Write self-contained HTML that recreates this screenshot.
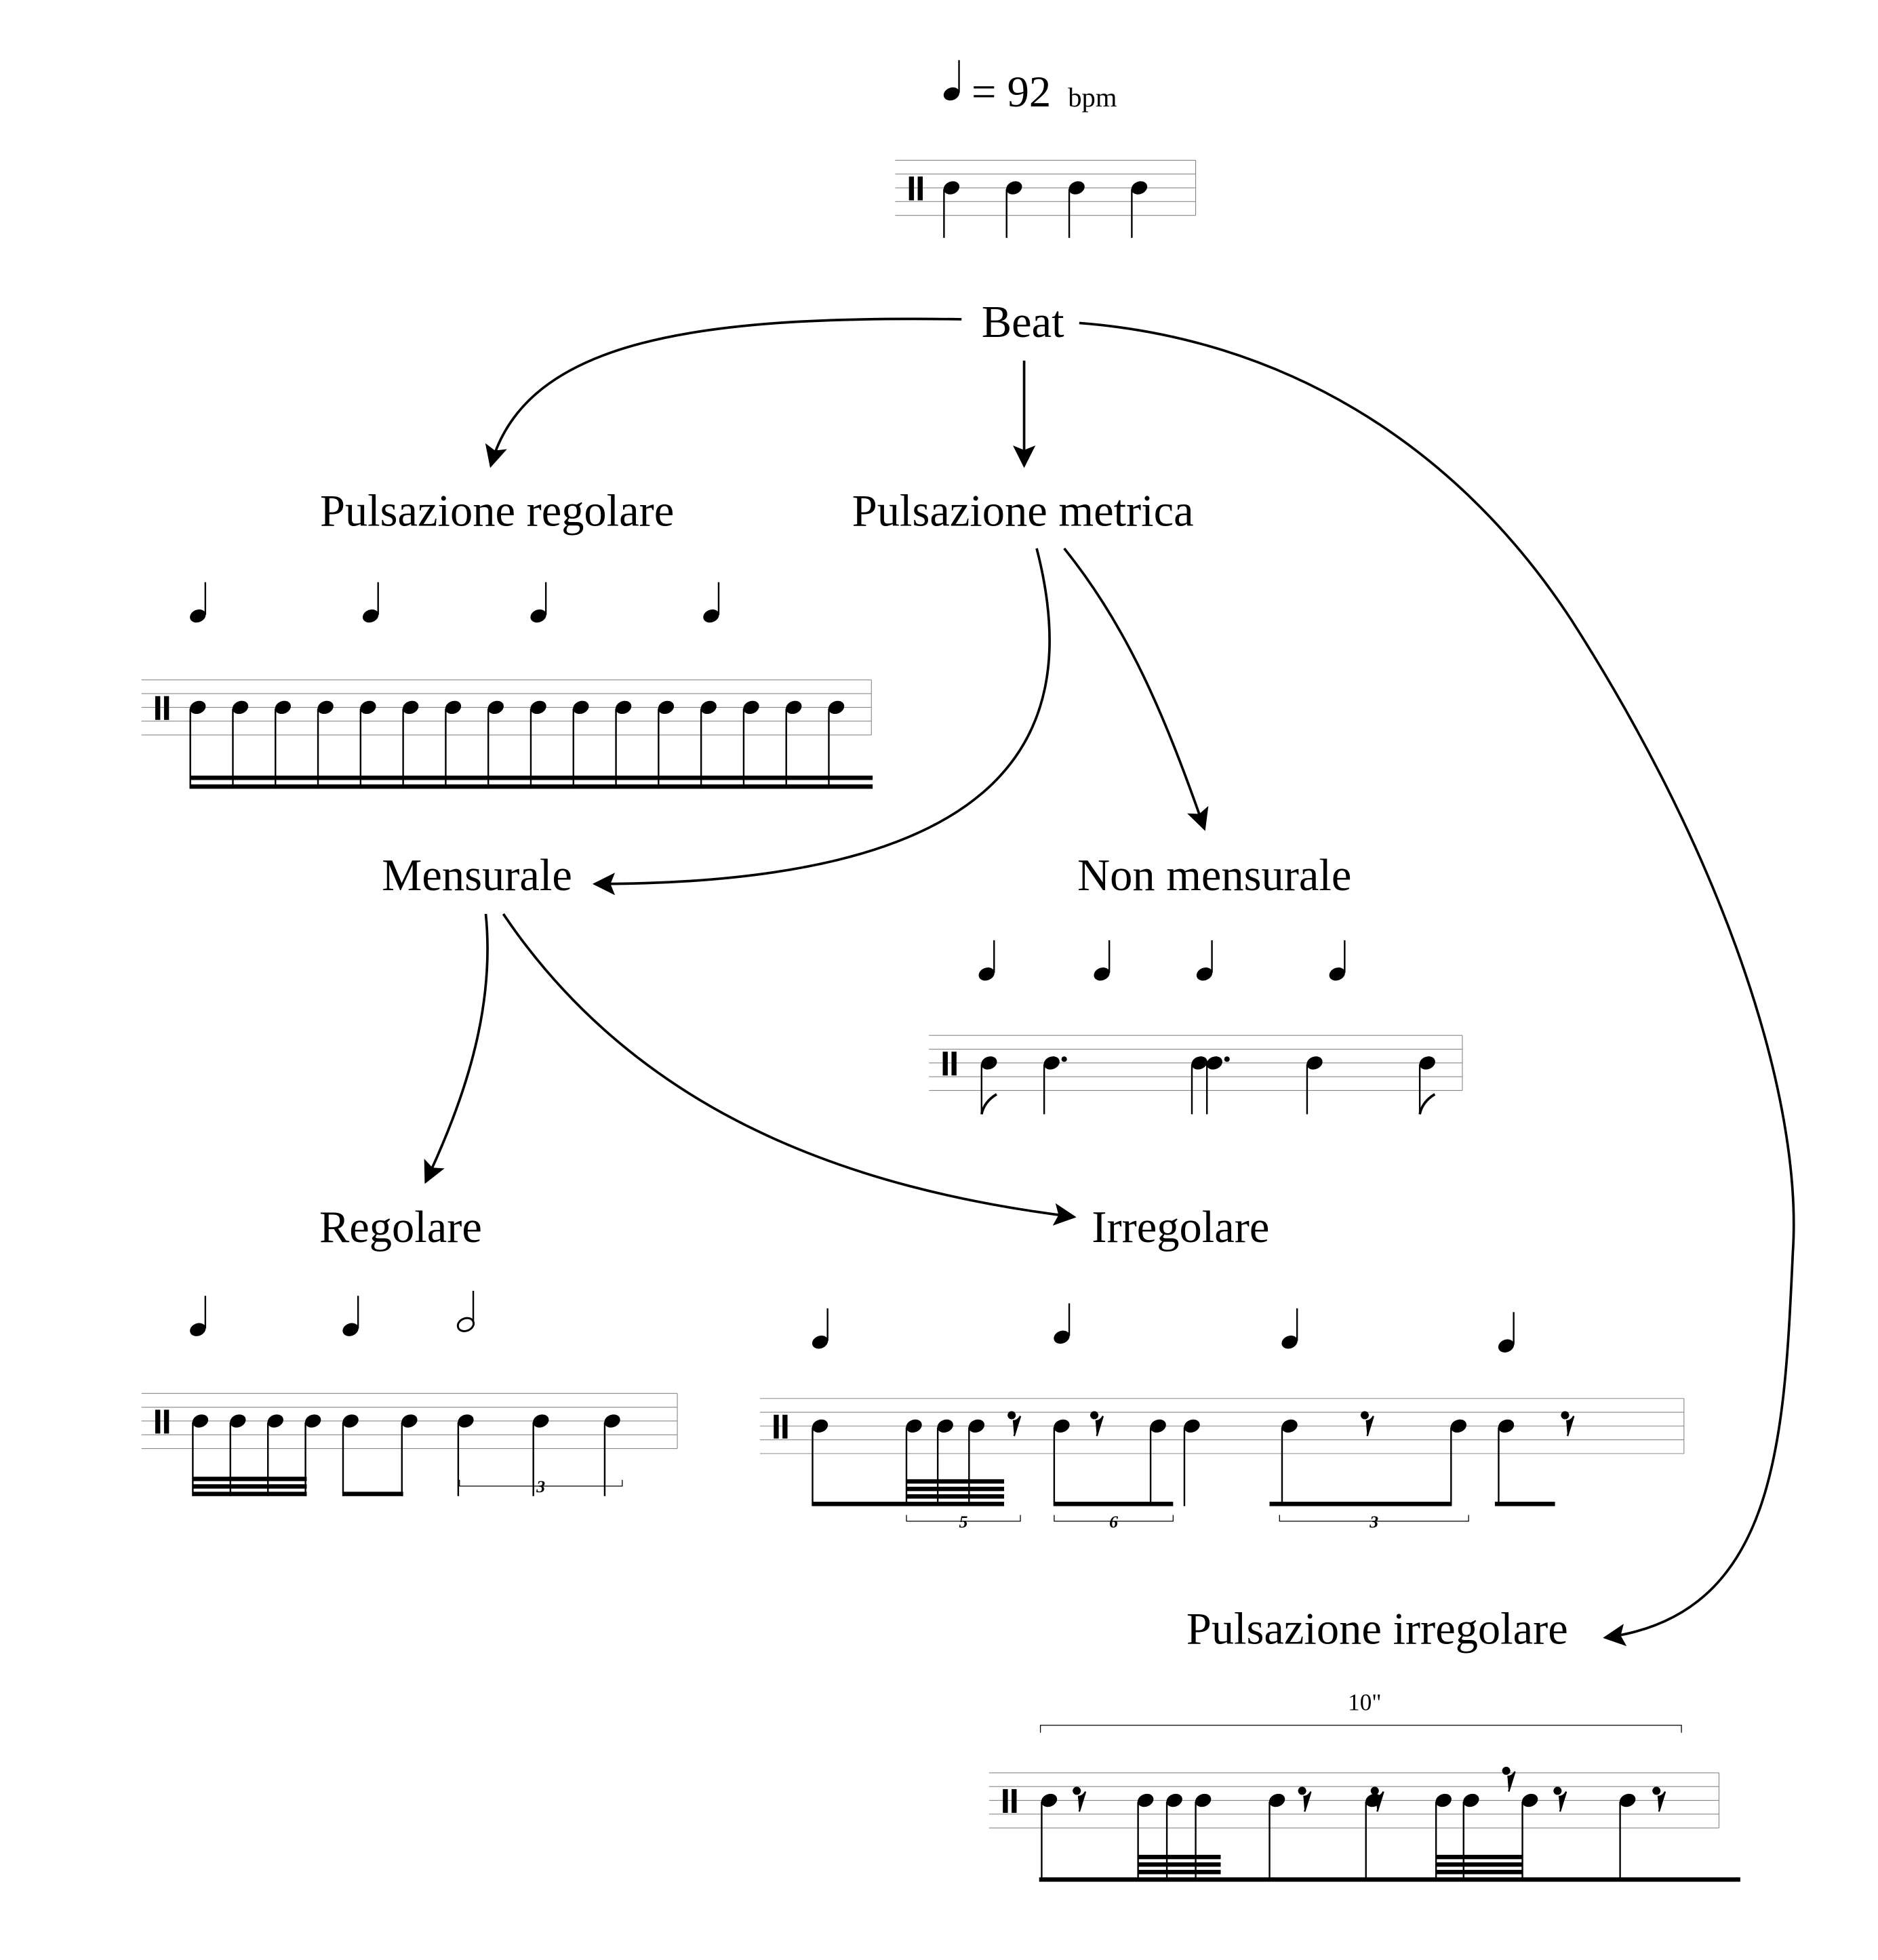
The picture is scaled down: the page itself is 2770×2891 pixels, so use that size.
<!DOCTYPE html>
<html><head><meta charset="utf-8"><style>
html,body{margin:0;padding:0;background:#fff}
svg{display:block}
text{font-family:"Liberation Serif",serif;fill:#000}
</style></head><body>
<svg id="s" width="2770" height="2891" viewBox="0 0 1500 1565.5" xmlns="http://www.w3.org/2000/svg">
<defs>
<marker id="ah2" viewBox="0 0 10 10" refX="9" refY="5" markerWidth="18" markerHeight="18" markerUnits="userSpaceOnUse" orient="auto"><path d="M0,0 L10,5 L0,10 L2,5 z" fill="#000"/></marker></defs>
<g>
<text x="776" y="85" font-size="35">= 92</text><text x="853" y="85" font-size="22">bpm</text>
</g>
<text x="817" y="269" font-size="36" text-anchor="middle">Beat</text>
<text x="397" y="420" font-size="36" text-anchor="middle">Pulsazione regolare</text>
<text x="817" y="420" font-size="36" text-anchor="middle">Pulsazione metrica</text>
<text x="381" y="711" font-size="36" text-anchor="middle">Mensurale</text>
<text x="970" y="711" font-size="36" text-anchor="middle">Non mensurale</text>
<text x="320" y="992" font-size="36" text-anchor="middle">Regolare</text>
<text x="943" y="992" font-size="36" text-anchor="middle">Irregolare</text>
<text x="1100" y="1313" font-size="36" text-anchor="middle">Pulsazione irregolare</text>
<text x="1090" y="1366" font-size="19" text-anchor="middle">10"</text>
<path d="M831,1384 V1378 H1343 V1384" fill="none" stroke="#000" stroke-width="0.7"/>
<g fill="none" stroke="#000" stroke-width="2">
<path d="M768,255 C560,252 420,270 392,372" marker-end="url(#ah2)"/>
<path d="M818,288 L818,372" marker-end="url(#ah2)"/>
<path d="M862,258 C1020,270 1160,350 1255,495 C1380,690 1440,880 1432,1000 C1425,1150 1420,1290 1282,1308" marker-end="url(#ah2)"/>
<path d="M828,438 C870,600 790,706 475,706" marker-end="url(#ah2)"/>
<path d="M850,438 C900,500 930,570 962,662" marker-end="url(#ah2)"/>
<path d="M388,730 C395,800 375,870 340,944" marker-end="url(#ah2)"/>
<path d="M402,730 C510,890 680,950 858,972" marker-end="url(#ah2)"/>
</g>
<g id="mus"></g>
</svg>
<script>
const staffX1=[715,113,742,113,607,790];
const staffX2=[955,696,1168,541,1345,1373];
const staffTop=[128,543,827,1113,1117,1416];
const staffNotes=[[760,810,860,910],[158,192,226,260,294,328,362,396,430,464,498,532,566,600,634,668],[790,840,958,970,1050,1140],[160,190,220,250,280,327,372,432,489],[655,730,755,780,848,925,952,1030,1165,1203],[838,915,938,961,1020,1097,1153,1175,1222,1300]];
const stemEnd=[190,630,890,1195,1203,1500];
const upX=[760,158,296,430,568,788,880,962,1068,158,280,655,848,1030,1203];
const upY=[75,492,492,492,492,778,778,778,778,1062,1062,1072,1068,1072,1075];
const ns='http://www.w3.org/2000/svg';
const g=document.getElementById('mus');
function el(t,a){const e=document.createElementNS(ns,t);for(const k in a)e.setAttribute(k,a[k]);g.appendChild(e);return e;}
function head(x,y,open){return el('ellipse',{cx:x,cy:y,rx:6.5,ry:5,transform:`rotate(-22 ${x} ${y})`,fill:open?'#fff':'#000',stroke:'#000','stroke-width':open?1.6:0});}
for(let i=0;i<upX.length;i++){
  const h=head(upX[i],upY[i],false);
  
  
  const s=el('line',{x1:upX[i]+6,y1:upY[i]-1,x2:upX[i]+6,y2:upY[i]-27,stroke:'#000','stroke-width':1.3});
  
  
}
{const h=head(372,1058,true);
const s=el('line',{x1:378,y1:1057,x2:378,y2:1031,stroke:'#000','stroke-width':1.3});}
for(let i=0;i<staffX1.length;i++){
  for(let k=0;k<5;k++){
    const l=el('line',{x1:staffX1[i],x2:staffX2[i],y1:staffTop[i]+k*11,y2:staffTop[i]+k*11,stroke:'#888','stroke-width':0.6});
    
    
  }
  const b=el('line',{x1:staffX2[i],x2:staffX2[i],y1:staffTop[i],y2:staffTop[i]+44,stroke:'#888','stroke-width':0.6});
  
  
  const cx=staffX1[i]+11, cy=staffTop[i]+13;
  const c1=el('rect',{x:cx,y:cy,width:4,height:19,fill:'#000'});
  
  
  const c2=el('rect',{x:cx+7,y:cy,width:4,height:19,fill:'#000'});
  
  
  const my=staffTop[i]+22;
  staffNotes[i].forEach(x=>{
    const h=head(x,my,false);
    
    
    const s=el('line',{x1:x-6,y1:my+1,x2:x-6,y2:stemEnd[i],stroke:'#000','stroke-width':1.3});
    
    
  });
}
function beam(x1,x2,y,name){const b=el('rect',{x:x1,y:y-3.5,width:x2-x1,height:3.5,fill:'#000'});}
beam(152,697,630,'beam-16th');beam(152,697,623,'beam-16th');
[1195,1189,1183].forEach(y=>beam(154,245,y,'beam-16th'));beam(274,322,1195,'beam-8th');
beam(649,802,1203,'beam-irregular');[1197,1191,1185].forEach(y=>beam(724,802,y,'beam-irregular'));
beam(842,937,1203,'beam-irregular');beam(1014,1159,1203,'beam-irregular');beam(1194,1242,1203,'beam-irregular');
beam(830,1390,1503,'beam-bottom');[1497,1491,1485].forEach(y=>{beam(909,975,y,'beam-bottom');beam(1147,1216,y,'beam-bottom');});
[[784,890],[1134,890]].forEach(([x,y])=>{const f=el('path',{d:`M${x},${y} q2,-10 12,-16`,fill:'none',stroke:'#000','stroke-width':2});});
[[850,846],[980,846]].forEach(([x,y])=>{const d=el('circle',{cx:x,cy:y,r:2.2,fill:'#000'});});
function tup(x1,x2,y,n){const p=el('path',{d:`M${x1},${y-5} V${y} H${x2} V${y-5}`,fill:'none',stroke:'#000','stroke-width':0.7});
const t=el('text',{x:(x1+x2)/2,y:y+5,'font-size':14,'font-weight':'bold','font-style':'italic','text-anchor':'middle'});t.textContent=n;}
tup(367,497,1187,'3');tup(724,815,1215,'5');tup(842,937,1215,'6');tup(1022,1173,1215,'3');
const restX=[808,874,1090,1250,860,1040,1098,1203,1244,1323];
const restY=[1138,1138,1138,1138,1438,1438,1438,1422,1438,1438];
restX.forEach((x,i)=>{const y=restY[i];
  const r=el('path',{d:`M${x},${y-5} a2.6,2.6 0 1 1 0.1,0 M${x+1},${y-3} Q${x+5},${y-3} ${x+7},${y-7} L${x+2},${y+9}`,fill:'#000',stroke:'#000','stroke-width':1.3});
  
  
});
</script>
</body></html>
